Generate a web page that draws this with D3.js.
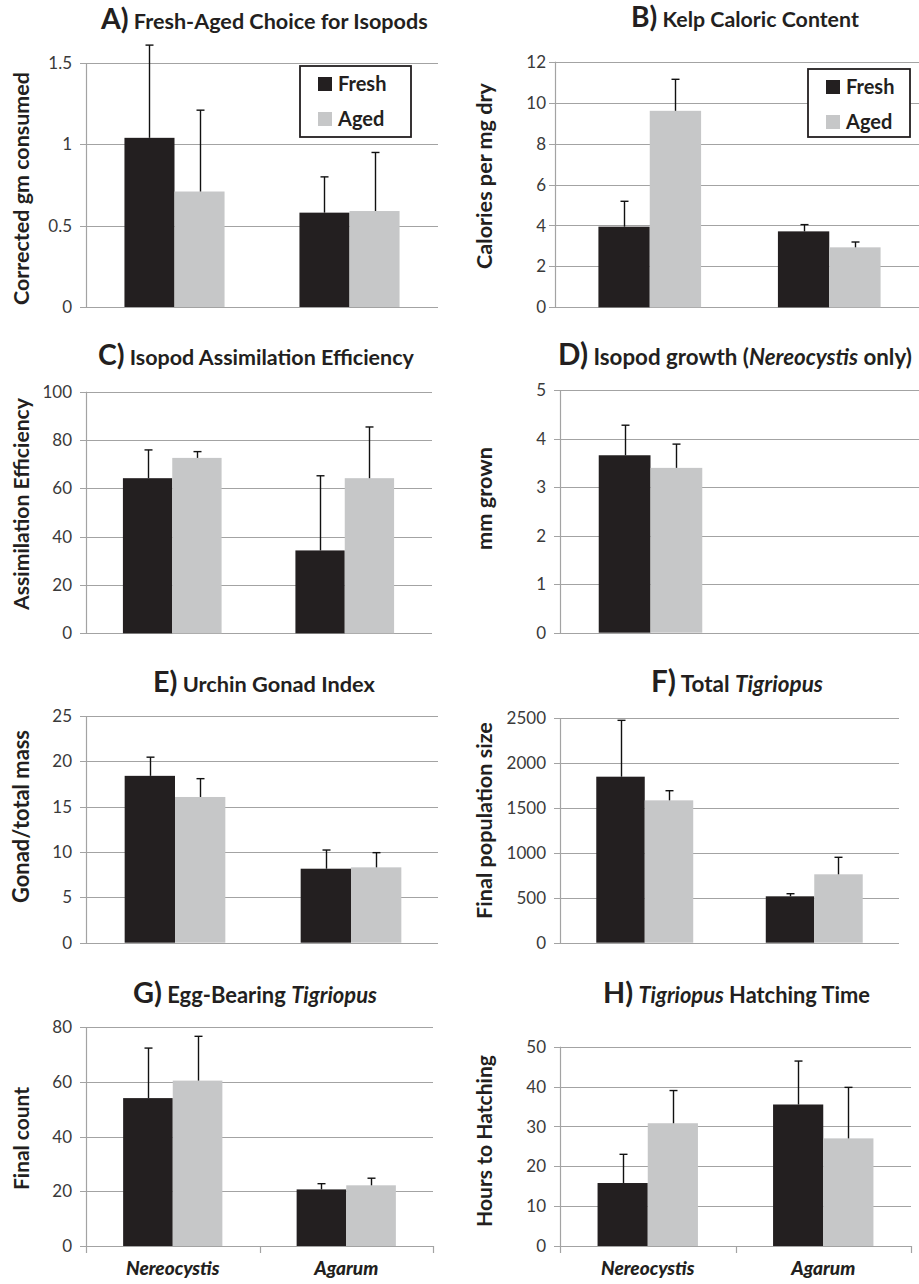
<!DOCTYPE html>
<html>
<head>
<meta charset="utf-8">
<script src="https://cdn.jsdelivr.net/npm/d3@7"></script>
<style>
  html, body { margin: 0; padding: 0; background: #fff; }
  svg { display: block; }
</style>
</head>
<body>
<div id="chart"></div>
<script>
// ---------------- DATA ----------------
const categories = ["Nereocystis", "Agarum"];
const seriesNames = ["Fresh", "Aged"];

// A) Fresh-Aged Choice for Isopods
const aFresh = [1.04, 0.58];   const aFreshErr = [0.57, 0.22];
const aAged  = [0.71, 0.59];   const aAgedErr  = [0.50, 0.36];
const aTicks = [0, 0.5, 1, 1.5];

// B) Kelp Caloric Content
const bFresh = [3.94, 3.71];   const bFreshErr = [1.24, 0.33];
const bAged  = [9.60, 2.93];   const bAgedErr  = [1.54, 0.26];
const bTicks = [0, 2, 4, 6, 8, 10, 12];

// C) Isopod Assimilation Efficiency
const cFresh = [64.2, 34.3];   const cFreshErr = [11.7, 30.9];
const cAged  = [72.6, 64.2];   const cAgedErr  = [2.6, 21.2];
const cTicks = [0, 20, 40, 60, 80, 100];

// D) Isopod growth (Nereocystis only)
const dFresh = [3.66, null];   const dFreshErr = [0.62, null];
const dAged  = [3.40, null];   const dAgedErr  = [0.49, null];
const dTicks = [0, 1, 2, 3, 4, 5];

// E) Urchin Gonad Index
const eFresh = [18.4, 8.16];   const eFreshErr = [2.06, 2.06];
const eAged  = [16.07, 8.31];  const eAgedErr  = [2.02, 1.62];
const eTicks = [0, 5, 10, 15, 20, 25];

// F) Total Tigriopus
const fFresh = [1847, 516];    const fFreshErr = [627, 29];
const fAged  = [1584, 761];    const fAgedErr  = [107, 189];
const fTicks = [0, 500, 1000, 1500, 2000, 2500];

// G) Egg-Bearing Tigriopus
const gFresh = [54.1, 20.7];   const gFreshErr = [18.3, 2.1];
const gAged  = [60.5, 22.2];   const gAgedErr  = [16.2, 2.6];
const gTicks = [0, 20, 40, 60, 80];

// H) Tigriopus Hatching Time
const hFresh = [15.8, 35.5];   const hFreshErr = [7.2, 10.9];
const hAged  = [30.8, 27.0];   const hAgedErr  = [8.2, 12.8];
const hTicks = [0, 10, 20, 30, 40, 50];

// titles: [letter, [text, italic]...]
const titles = {
  A: ["A)", [[" Fresh-Aged Choice for Isopods", false]]],
  B: ["B)", [[" Kelp Caloric Content", false]]],
  C: ["C)", [[" Isopod Assimilation Efficiency", false]]],
  D: ["D)", [[" Isopod growth (", false], ["Nereocystis", true], [" only)", false]]],
  E: ["E)", [[" Urchin Gonad Index", false]]],
  F: ["F)", [[" Total ", false], ["Tigriopus", true]]],
  G: ["G)", [[" Egg-Bearing ", false], ["Tigriopus", true]]],
  H: ["H)", [[" ", false], ["Tigriopus", true], [" Hatching Time", false]]]
};
const yLabels = {
  A: "Corrected gm consumed", B: "Calories per mg dry", C: "Assimilation Efficiency",
  D: "mm grown", E: "Gonad/total mass", F: "Final population size",
  G: "Final count", H: "Hours to Hatching"
};

// ---------------- LAYOUT ----------------
const FONT = "Lato, 'Open Sans', 'DejaVu Sans', sans-serif";
const DARK = "#231f20", LIGHT = "#c6c7c8", GRID = "#a3a3a3", TICKTXT = "#3a3a3a";

const panels = [
  {id:"A", fresh:aFresh, fe:aFreshErr, aged:aAged, ae:aAgedErr, ticks:aTicks,
   gx0:86, gx1:438, bx0:87, bx1:437, yTop:63, y0:307, lblR:72, ylabX:29, ylab:[72,305],
   title:[101,428,29], legend:{x:300,y:66,w:111,h:71}, xaxis:false},
  {id:"B", fresh:bFresh, fe:bFreshErr, aged:bAged, ae:bAgedErr, ticks:bTicks,
   gx0:555, gx1:919, bx0:560, bx1:919, yTop:61.7, y0:307.3, lblR:546, ylabX:492, ylab:[83,269],
   title:[631,859,27], legend:{x:808,y:69,w:102,h:68}, xaxis:false},
  {id:"C", fresh:cFresh, fe:cFreshErr, aged:cAged, ae:cAgedErr, ticks:cTicks,
   gx0:86, gx1:432, bx0:86, bx1:431, yTop:391.7, y0:633.3, lblR:72, ylabX:29, ylab:[398,610],
   title:[98,414,365], xaxis:false},
  {id:"D", fresh:dFresh, fe:dFreshErr, aged:dAged, ae:dAgedErr, ticks:dTicks,
   gx0:560, gx1:919, bx0:560, bx1:922, yTop:390.3, y0:632.7, lblR:546, ylabX:492, ylab:[447,550],
   title:[558,912,365], xaxis:false},
  {id:"E", fresh:eFresh, fe:eFreshErr, aged:eAged, ae:eAgedErr, ticks:eTicks,
   gx0:86, gx1:438, bx0:87, bx1:439, yTop:716, y0:942.7, lblR:72, ylabX:29, ylab:[730,903],
   title:[153,375,691.7], xaxis:false},
  {id:"F", fresh:fFresh, fe:fFreshErr, aged:fAged, ae:fAgedErr, ticks:fTicks,
   gx0:560, gx1:899, bx0:560, bx1:899, yTop:718, y0:942.7, lblR:546, ylabX:492, ylab:[722,919],
   title:[651,823,691.7], xaxis:false},
  {id:"G", fresh:gFresh, fe:gFreshErr, aged:gAged, ae:gAgedErr, ticks:gTicks,
   gx0:86, gx1:433, bx0:86, bx1:433, yTop:1027.3, y0:1246, lblR:72, ylabX:29, ylab:[1087,1190],
   title:[133,377,1002.7], xaxis:true},
  {id:"H", fresh:hFresh, fe:hFreshErr, aged:hAged, ae:hAgedErr, ticks:hTicks,
   gx0:560, gx1:911, bx0:560, bx1:911, yTop:1046.7, y0:1246, lblR:546, ylabX:492, ylab:[1055,1227],
   title:[603,870,1002.7], xaxis:true}
];

const svg = d3.select("#chart").append("svg")
  .attr("width", 919).attr("height", 1284)
  .attr("font-family", FONT);
svg.append("rect").attr("width", 919).attr("height", 1284).attr("fill", "#fff");

function fmt(v) { return String(v); }

panels.forEach(p => {
  const g = svg.append("g");
  const yMax = p.ticks[p.ticks.length - 1];
  const y = d3.scaleLinear().domain([0, yMax]).range([p.y0, p.yTop]);
  const x0 = d3.scaleBand().domain(categories).range([p.bx0, p.bx1]).paddingInner(0).paddingOuter(0);
  const groupW = x0.bandwidth() * 0.572;
  const x1 = d3.scaleBand().domain(seriesNames).range([0, groupW]).padding(0);

  // gridlines (with short outward ticks on the left)
  g.append("g").selectAll("line").data(p.ticks).join("line")
    .attr("x1", p.gx0 - 6).attr("x2", p.gx1)
    .attr("y1", d => Math.round(y(d)) + 0.5).attr("y2", d => Math.round(y(d)) + 0.5)
    .attr("stroke", GRID).attr("stroke-width", 1.2);
  // vertical axis line
  g.append("line").attr("x1", p.gx0 + 0.5).attr("x2", p.gx0 + 0.5)
    .attr("y1", y(yMax)).attr("y2", p.y0 + 0.5)
    .attr("stroke", GRID).attr("stroke-width", 1.2);
  // tick labels
  g.append("g").selectAll("text").data(p.ticks).join("text")
    .attr("x", p.lblR).attr("y", d => y(d)).attr("dy", "0.36em")
    .attr("text-anchor", "end").attr("font-size", 17).attr("fill", TICKTXT)
    .text(fmt);

  // x-axis tick marks (bottom row)
  if (p.xaxis) {
    const bounds = [p.bx0, p.bx0 + x0.bandwidth(), p.bx1];
    g.append("g").selectAll("line").data(bounds).join("line")
      .attr("x1", d => Math.round(d) + 0.5).attr("x2", d => Math.round(d) + 0.5)
      .attr("y1", p.y0).attr("y2", p.y0 + 7)
      .attr("stroke", GRID).attr("stroke-width", 1.2);
    g.append("g").selectAll("text").data(categories).join("text")
      .attr("class", "cat")
      .attr("x", d => x0(d) + x0.bandwidth() / 2).attr("y", 1275)
      .attr("text-anchor", "middle").attr("font-weight", "900").attr("font-style", "italic")
      .attr("font-size", 19).attr("fill", DARK).text(d => d);
  }

  // bars
  const rows = [];
  categories.forEach((c, i) => {
    rows.push({cat: c, s: "Fresh", v: p.fresh[i], e: p.fe[i]});
    rows.push({cat: c, s: "Aged", v: p.aged[i], e: p.ae[i]});
  });
  const valid = rows.filter(r => r.v !== null);
  const bx = r => x0(r.cat) + (x0.bandwidth() - groupW) / 2 + x1(r.s);
  g.append("g").selectAll("rect").data(valid).join("rect")
    .attr("x", bx).attr("width", x1.bandwidth())
    .attr("y", r => y(r.v)).attr("height", r => p.y0 - y(r.v))
    .attr("fill", r => r.s === "Fresh" ? DARK : LIGHT);
  // error bars (upper only)
  const eb = g.append("g").attr("stroke", "#111").attr("stroke-width", 1.4);
  valid.forEach(r => {
    const cx = Math.round(bx(r) + x1.bandwidth() / 2) + 0.5;
    const top = y(r.v + r.e);
    eb.append("line").attr("x1", cx).attr("x2", cx).attr("y1", y(r.v)).attr("y2", top);
    eb.append("line").attr("x1", cx - 4).attr("x2", cx + 4).attr("y1", top).attr("y2", top);
  });

  // legend
  if (p.legend) {
    const L = p.legend;
    const lg = g.append("g");
    lg.append("rect").attr("x", L.x).attr("y", L.y).attr("width", L.w).attr("height", L.h)
      .attr("fill", "#fff").attr("stroke", DARK).attr("stroke-width", 1.8);
    seriesNames.forEach((s, i) => {
      const sy = L.y + 11 + i * 35;
      lg.append("rect").attr("x", L.x + 18).attr("y", sy).attr("width", 14).attr("height", 14)
        .attr("fill", s === "Fresh" ? DARK : LIGHT);
      lg.append("text").attr("x", L.x + 38).attr("y", sy + 14)
        .attr("font-size", 20).attr("font-weight", "bold").attr("fill", DARK).text(s);
    });
  }

  // title
  const [tx0, tx1, ty] = p.title;
  const [letter, parts] = titles[p.id];
  const t = g.append("text").attr("x", tx0).attr("y", ty).attr("font-weight", "bold").attr("fill", DARK);
  const base = 18;
  const lt = t.append("tspan").attr("font-size", base * 1.32).text(letter);
  const pts = parts.map(([txt, it]) => t.append("tspan").attr("font-size", base)
    .attr("font-style", it ? "italic" : "normal").text(txt));
  const w = t.node().getComputedTextLength();
  const k = (tx1 - tx0) / w;
  lt.attr("font-size", base * 1.32 * k);
  pts.forEach(s => s.attr("font-size", base * k));

  // y label
  const [ly0, ly1] = p.ylab;
  const yl = g.append("text")
    .attr("transform", `translate(${p.ylabX},${(ly0 + ly1) / 2}) rotate(-90)`)
    .attr("text-anchor", "middle").attr("font-weight", "bold").attr("fill", DARK)
    .attr("font-size", 18).text(yLabels[p.id]);
  const yw = yl.node().getComputedTextLength();
  yl.attr("font-size", 18 * (ly1 - ly0) / yw);
});

// unify category label size: fit "Nereocystis" to ~110px
svg.selectAll("text.cat").each(function(d) {
  if (d === "Nereocystis") {
    const w = this.getComputedTextLength();
    const fs = 19 * 110 / w;
    svg.selectAll("text.cat").attr("font-size", fs);
  }
});
</script>
</body>
</html>
